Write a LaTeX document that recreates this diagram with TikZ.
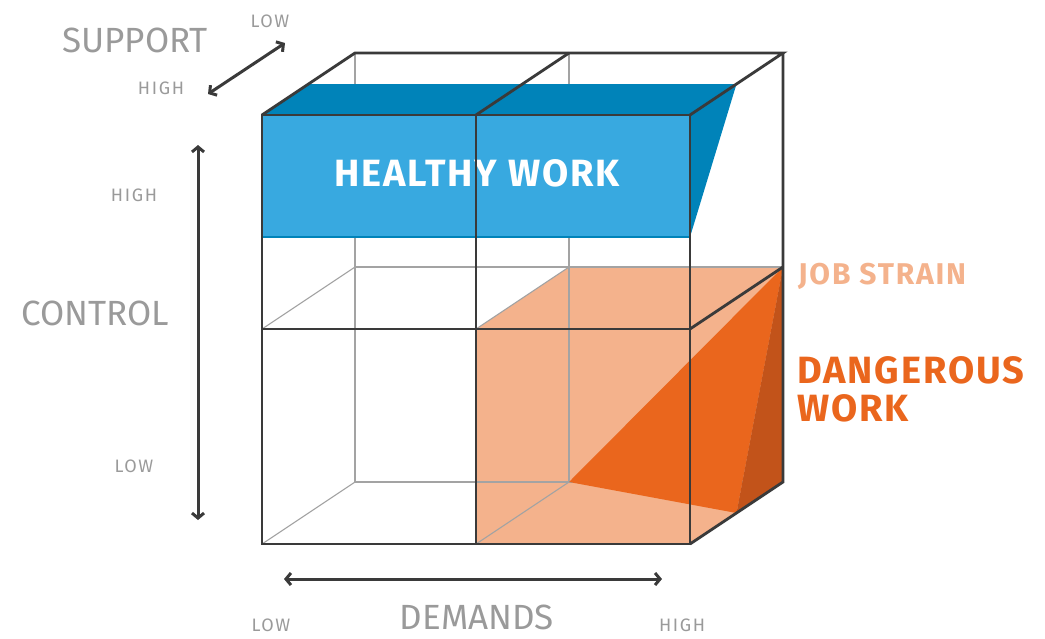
\documentclass[tikz,border=0pt]{standalone}
\usepackage{fontspec}
\setmainfont{Fira Sans}
\usepackage{xcolor}
\usepackage{tikz}
\usetikzlibrary{calc,arrows.meta}
\definecolor{edge}{HTML}{3A3A3A}
\definecolor{hidden}{HTML}{A3A3A3}
\definecolor{muted}{HTML}{9A9A9A}
\definecolor{bluefront}{HTML}{38A9E0}
\definecolor{bluetop}{HTML}{0083B9}
\definecolor{strain}{HTML}{F4B28C}
\definecolor{danger}{HTML}{EA661D}
\definecolor{dangerside}{HTML}{C2531A}
\tikzset{
  frame/.style={draw=edge, line width=2.8pt, line join=miter},
  backline/.style={draw=hidden, line width=1.1pt},
  axisarrow/.style={draw=edge, line width=3pt,
    {Straight Barb[length=5pt,width=12pt]}-{Straight Barb[length=5pt,width=12pt]}},
  axislab/.style={text=muted, inner sep=0.5pt, font=\fontsize{35}{38}\selectfont},
  levellab/.style={text=muted, font=\fontsize{18}{20}\selectfont\addfontfeature{LetterSpace=9}},
  zonelab/.style={font=\bfseries\fontsize{38}{42}\selectfont\addfontfeature{LetterSpace=5}, align=left, inner sep=0pt}
}

\begin{document}
\begin{tikzpicture}[x=1pt,y=-1pt]
  \useasboundingbox (0,0) rectangle (1045,638);
  % front face
  \coordinate (ftl) at (262,115);
  \coordinate (ftm) at (476,115);
  \coordinate (ftr) at (690,115);
  \coordinate (fml) at (262,329);
  \coordinate (fc)  at (476,329);
  \coordinate (fmr) at (690,329);
  \coordinate (fbl) at (262,544);
  \coordinate (fbm) at (476,544);
  \coordinate (fbr) at (690,544);
  % back face
  \foreach \p in {tl,tm,tr,ml,c,mr,bl,bm,br}
    \coordinate (b\p) at ($(f\p)+(93,-62)$);
  % healthy work block
  \coordinate (htl) at ($(ftl)!0.5!(btl)$);
  \coordinate (htr) at ($(ftr)!0.5!(btr)$);
  \coordinate (hbl) at (262,237);
  \coordinate (hbr) at (690,237);
  \coordinate (dtip) at ($(fbr)!0.5!(bbr)$);

  \fill[strain] (fc)--(bc)--(bmr)--(bbr)--(fbr)--(fbm)--cycle;

  \draw[backline] (btl)--(bbl)--(bbr);
  \draw[backline] (btm)--(bbm);
  \draw[backline] (bml)--(bmr);
  \draw[backline] (fml)--(bml);
  \draw[backline] (fbl)--(bbl);
  \draw[backline] (fc)--(bc);
  \draw[backline] (fbm)--(bbm);

  \fill[bluetop] (ftl)--(htl)--(htr)--(ftr)--cycle;
  \fill[bluetop] (ftr)--(htr)--(hbr)--cycle;
  \fill[bluefront] (ftl) rectangle (hbr);
  \draw[bluetop, line width=1.2pt] (hbl)--(hbr);

  \fill[danger] (bbm)--(bmr)--(dtip)--cycle;
  \fill[dangerside] (bmr)--(bbr)--(dtip)--cycle;

  \node[zonelab, text=white, anchor=center] (healthy) at (477,173) {HEALTHY WORK};

  \draw[frame] (ftl)--(ftr)--(fbr)--(fbl)--cycle;
  \draw[frame] (ftm)--(fbm);
  \draw[frame] (fml)--(fmr);
  \draw[frame] (ftl)--(btl)--(btr)--(ftr);
  \draw[frame] (ftm)--(btm);
  \draw[frame] (btr)--(bbr)--(fbr);
  \draw[frame] (fmr)--(bmr);

  \node[zonelab, text=strain, font=\bfseries\fontsize{30}{32}\selectfont\addfontfeature{LetterSpace=6}, anchor=west] (strainlab) at (798,276) {JOB STRAIN};
  \node[zonelab, text=danger, anchor=north west] (dangerlab) at (797,356) {DANGEROUS\\[-4pt]WORK};

  % axes
  \coordinate (suphi) at (208,94);
  \coordinate (suplo) at (285,43);
  \coordinate (conhi) at (198,145);
  \coordinate (conlo) at (198,520);
  \coordinate (demlo) at (284,579);
  \coordinate (demhi) at (662,579);
  \draw[axisarrow] (suphi)--(suplo);
  \draw[axisarrow] (conhi)--(conlo);
  \draw[axisarrow] (demlo)--(demhi);

  \node[axislab] (support) at (135,40) {SUPPORT};
  \node[levellab] (suplolab) at (270,21) {LOW};
  \node[levellab] (suphilab) at (161,88) {HIGH};
  \node[axislab] (control) at (95,313) {CONTROL};
  \node[levellab] (conhilab) at (134,195) {HIGH};
  \node[levellab] (conlolab) at (134,466) {LOW};
  \node[axislab] (demands) at (477,617) {DEMANDS};
  \node[levellab] (demlolab) at (271,625) {LOW};
  \node[levellab] (demhilab) at (682,625) {HIGH};
\end{tikzpicture}
\end{document}
